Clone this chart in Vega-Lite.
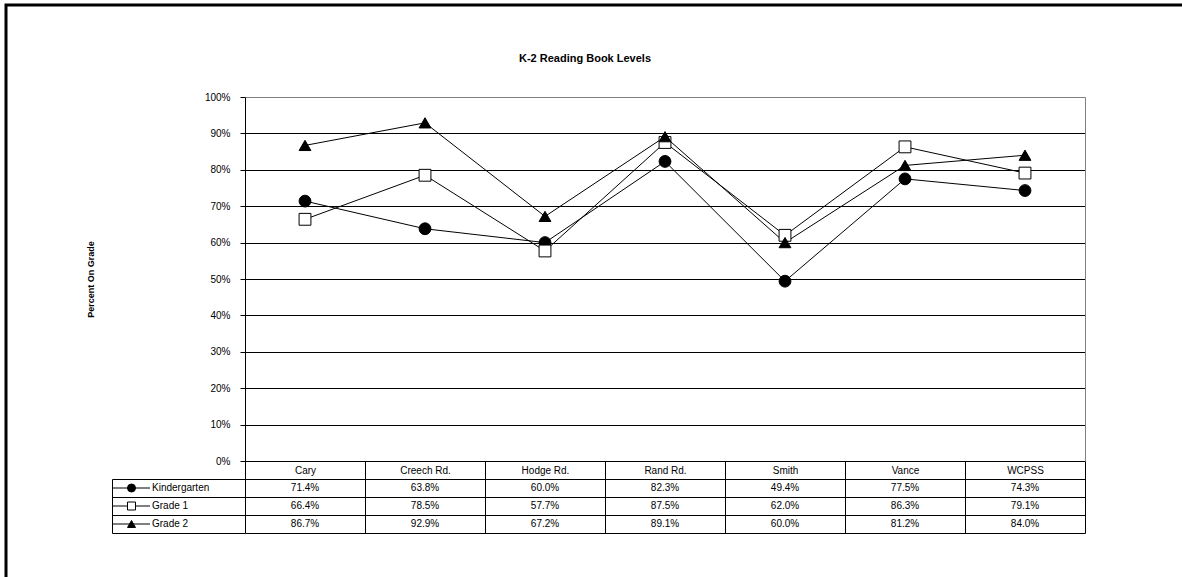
{
  "$schema": "https://vega.github.io/schema/vega-lite/v6.json",
  "width": 1176,
  "height": 572,
  "autosize": {"type": "none"},
  "padding": {"left": 6, "top": 5, "right": 0, "bottom": 0},
  "background": "white",
  "title": {
    "text": "K-2 Reading Book Levels",
    "frame": "group",
    "fontSize": 11,
    "fontWeight": "bold",
    "font": "Liberation Sans",
    "color": "black",
    "anchor": "middle",
    "baseline": "alphabetic",
    "dx": -9,
    "offset": -68
  },
  "config": {
    "font": "Liberation Sans",
    "view": {"stroke": "black", "strokeWidth": 3, "strokeDash": [1176, 1748, 572]},
    "axis": {"labelColor": "black", "labelFont": "Liberation Sans", "titleColor": "black"}
  },
  "data": {
    "values": [
      {"School": "Cary", "Series": "Kindergarten", "Pct": 0.714},
      {"School": "Creech Rd.", "Series": "Kindergarten", "Pct": 0.638},
      {"School": "Hodge Rd.", "Series": "Kindergarten", "Pct": 0.600},
      {"School": "Rand Rd.", "Series": "Kindergarten", "Pct": 0.823},
      {"School": "Smith", "Series": "Kindergarten", "Pct": 0.494},
      {"School": "Vance", "Series": "Kindergarten", "Pct": 0.775},
      {"School": "WCPSS", "Series": "Kindergarten", "Pct": 0.743},
      {"School": "Cary", "Series": "Grade 1", "Pct": 0.664},
      {"School": "Creech Rd.", "Series": "Grade 1", "Pct": 0.785},
      {"School": "Hodge Rd.", "Series": "Grade 1", "Pct": 0.577},
      {"School": "Rand Rd.", "Series": "Grade 1", "Pct": 0.875},
      {"School": "Smith", "Series": "Grade 1", "Pct": 0.620},
      {"School": "Vance", "Series": "Grade 1", "Pct": 0.863},
      {"School": "WCPSS", "Series": "Grade 1", "Pct": 0.791},
      {"School": "Cary", "Series": "Grade 2", "Pct": 0.867},
      {"School": "Creech Rd.", "Series": "Grade 2", "Pct": 0.929},
      {"School": "Hodge Rd.", "Series": "Grade 2", "Pct": 0.672},
      {"School": "Rand Rd.", "Series": "Grade 2", "Pct": 0.891},
      {"School": "Smith", "Series": "Grade 2", "Pct": 0.600},
      {"School": "Vance", "Series": "Grade 2", "Pct": 0.812},
      {"School": "WCPSS", "Series": "Grade 2", "Pct": 0.840}
    ]
  },
  "layer": [
    {
      "mark": {"type": "line", "stroke": "black", "strokeWidth": 1},
      "encoding": {
        "x": {
          "field": "School",
          "type": "nominal",
          "sort": ["Cary", "Creech Rd.", "Hodge Rd.", "Rand Rd.", "Smith", "Vance", "WCPSS"],
          "scale": {"type": "band", "range": [239, 1079], "paddingInner": 0, "paddingOuter": 0},
          "axis": {
            "title": null,
            "orient": "bottom",
            "offset": -116,
            "domainColor": "black",
            "domainWidth": 1,
            "ticks": true,
            "tickBand": "extent",
            "tickSize": 72,
            "tickColor": "black",
            "tickWidth": 1,
            "labelPadding": -63,
            "labelBaseline": "middle",
            "labelAngle": 0,
            "labelFontSize": 10,
            "grid": false
          }
        },
        "y": {
          "field": "Pct",
          "type": "quantitative",
          "scale": {"domain": [0, 1], "range": [456, 92], "nice": false, "zero": true},
          "axis": {
            "orient": "left",
            "offset": -239,
            "values": [0, 0.1, 0.2, 0.3, 0.4, 0.5, 0.6, 0.7, 0.8, 0.9, 1],
            "format": ".0%",
            "title": "Percent On Grade",
            "titleFontSize": 9,
            "titleFontWeight": "bold",
            "titleX": -155,
            "titleY": 274,
            "titleAngle": 270,
            "titleAlign": "center",
            "titleBaseline": "middle",
            "domainColor": "black",
            "tickColor": "black",
            "tickSize": 5,
            "labelPadding": 10,
            "labelFontSize": 10,
            "grid": true,
            "gridColor": {"condition": {"test": "datum.value === 1", "value": "#808080"}, "value": "black"},
            "gridWidth": 1
          }
        },
        "detail": {"field": "Series"}
      }
    },
    {
      "mark": {"type": "point", "filled": true, "stroke": "black", "strokeWidth": 1, "opacity": 1, "size": 140},
      "encoding": {
        "x": {
          "field": "School",
          "type": "nominal",
          "sort": ["Cary", "Creech Rd.", "Hodge Rd.", "Rand Rd.", "Smith", "Vance", "WCPSS"],
          "scale": {"type": "band", "range": [239, 1079], "paddingInner": 0, "paddingOuter": 0},
          "axis": null
        },
        "y": {
          "field": "Pct",
          "type": "quantitative",
          "scale": {"domain": [0, 1], "range": [456, 92], "nice": false, "zero": true},
          "axis": {
            "orient": "right",
            "offset": -97,
            "title": null,
            "domain": true,
            "domainColor": "#808080",
            "ticks": false,
            "labels": false,
            "grid": false
          }
        },
        "shape": {
          "field": "Series",
          "type": "nominal",
          "scale": {"domain": ["Kindergarten", "Grade 1", "Grade 2"], "range": ["circle", "square", "triangle-up"]},
          "legend": null
        },
        "fill": {
          "field": "Series",
          "type": "nominal",
          "scale": {"domain": ["Kindergarten", "Grade 1", "Grade 2"], "range": ["black", "white", "black"]},
          "legend": null
        }
      }
    },
    {
      "mark": {"type": "text", "fontSize": 10, "font": "Liberation Sans", "color": "black", "baseline": "middle"},
      "encoding": {
        "x": {
          "field": "School",
          "type": "nominal",
          "sort": ["Cary", "Creech Rd.", "Hodge Rd.", "Rand Rd.", "Smith", "Vance", "WCPSS"],
          "scale": {"type": "band", "range": [239, 1079], "paddingInner": 0, "paddingOuter": 0},
          "axis": null
        },
        "y": {
          "field": "Series",
          "type": "nominal",
          "scale": {"type": "band", "domain": ["Kindergarten", "Grade 1", "Grade 2"], "range": [474, 528], "paddingInner": 0, "paddingOuter": 0},
          "axis": {
            "orient": "left",
            "offset": -239,
            "title": null,
            "domain": false,
            "ticks": true,
            "tickBand": "extent",
            "tickSize": 133,
            "tickColor": "black",
            "labels": false,
            "grid": true,
            "gridColor": "black"
          }
        },
        "text": {"field": "Pct", "type": "quantitative", "format": ".1%"}
      }
    },
    {
      "transform": [{"filter": "datum.School === 'Cary'"}],
      "encoding": {
        "y": {
          "field": "Series",
          "type": "nominal",
          "scale": {"type": "band", "domain": ["Kindergarten", "Grade 1", "Grade 2"], "range": [474, 528], "paddingInner": 0, "paddingOuter": 0},
          "axis": {
            "orient": "left",
            "offset": -106,
            "title": null,
            "domain": true,
            "domainColor": "black",
            "ticks": false,
            "labels": false,
            "grid": false
          }
        }
      },
      "layer": [
        {
          "mark": {"type": "rule", "stroke": "black", "strokeWidth": 1},
          "encoding": {
            "x": {"datum": 0, "type": "quantitative", "scale": {"domain": [0, 1], "range": [107, 144]}, "axis": null},
            "x2": {"datum": 1}
          }
        },
        {
          "mark": {"type": "point", "filled": true, "stroke": "black", "strokeWidth": 1, "opacity": 1, "size": 64},
          "encoding": {
            "x": {"datum": 0.5, "type": "quantitative", "axis": null},
            "shape": {"field": "Series", "type": "nominal", "legend": null},
            "fill": {"field": "Series", "type": "nominal", "legend": null}
          }
        },
        {
          "mark": {"type": "text", "fontSize": 10, "font": "Liberation Sans", "color": "black", "align": "left", "baseline": "middle", "dx": 2},
          "encoding": {
            "x": {"datum": 1, "type": "quantitative", "axis": null},
            "text": {"field": "Series", "type": "nominal"}
          }
        }
      ]
    }
  ],
  "resolve": {"scale": {"x": "independent", "y": "independent"}}
}
